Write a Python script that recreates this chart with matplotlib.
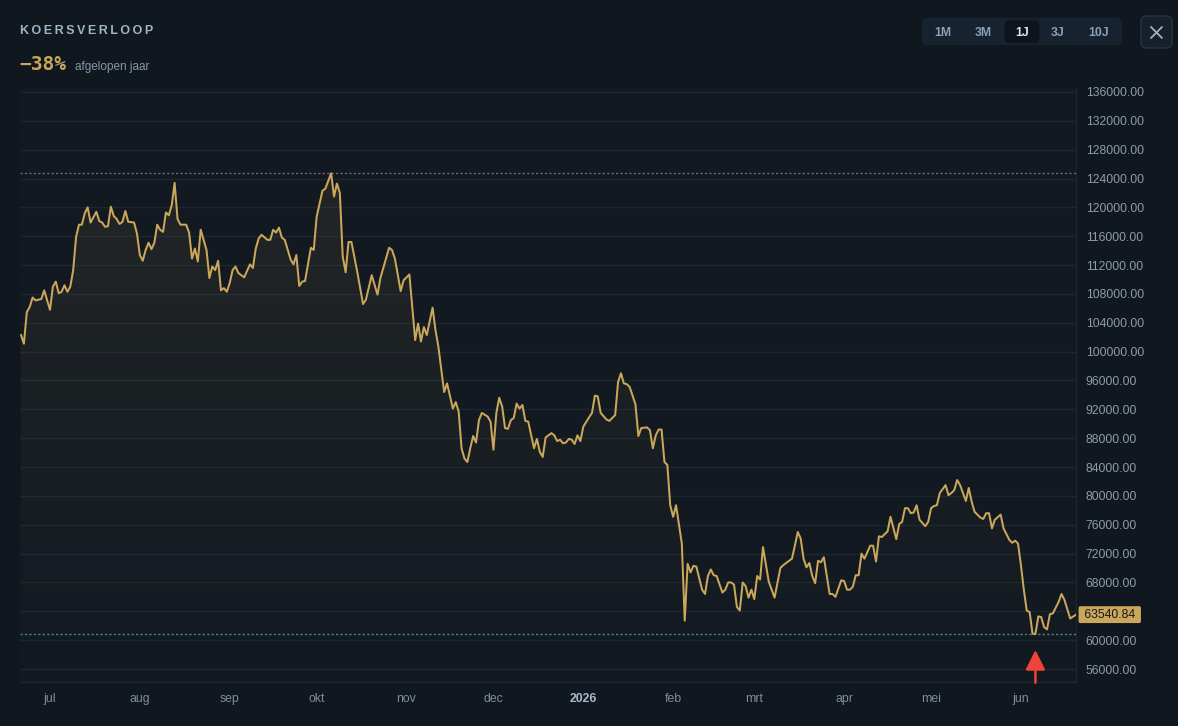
#!/usr/bin/env python3
"""
Koersverloop - one year price chart, dark theme
"""

import matplotlib
matplotlib.use("Agg")

import numpy as np
import pandas as pd
import matplotlib.pyplot as plt
from matplotlib.colors import to_rgb
from matplotlib.patches import FancyBboxPatch
from matplotlib.ticker import MultipleLocator, FuncFormatter

# ---- data -----------------------------------------------------------------
START = "2025-06-21"

# days since START
day = [
    0, 1, 2, 3, 4, 5, 7, 8, 10, 11, 12, 13, 14, 15, 16, 17, 18, 19, 20, 21,
    22, 23, 24, 26, 27, 28, 29, 30, 31, 32, 33, 34, 35, 36, 37, 39, 40, 41, 42, 43,
    44, 45, 46, 47, 48, 49, 50, 51, 52, 53, 54, 55, 57, 58, 59, 60, 61, 62, 64, 65,
    66, 67, 68, 69, 70, 71, 72, 73, 74, 75, 77, 79, 80, 81, 82, 83, 85, 86, 87, 88,
    89, 90, 91, 93, 94, 95, 96, 97, 98, 100, 101, 102, 104, 105, 107, 108, 109, 110, 111, 112,
    113, 114, 116, 118, 119, 121, 123, 124, 125, 127, 128, 129, 131, 132, 134, 136, 137, 138, 139, 140,
    142, 143, 144, 146, 147, 149, 150, 151, 152, 153, 154, 155, 156, 157, 158, 159, 161, 162, 163, 164,
    165, 166, 167, 168, 169, 170, 171, 172, 173, 174, 175, 177, 178, 179, 180, 181, 183, 184, 185, 186,
    187, 188, 189, 190, 191, 192, 193, 194, 196, 197, 198, 199, 200, 202, 203, 205, 206, 207, 208, 209,
    210, 212, 213, 214, 216, 217, 218, 219, 220, 221, 222, 223, 224, 225, 226, 228, 229, 230, 231, 232,
    233, 235, 236, 237, 238, 239, 240, 242, 243, 244, 245, 246, 247, 248, 249, 250, 251, 252, 253, 254,
    255, 256, 258, 260, 262, 263, 266, 267, 268, 269, 270, 271, 272, 273, 274, 275, 276, 277, 279, 280,
    281, 283, 284, 285, 286, 287, 288, 289, 290, 291, 293, 294, 295, 296, 297, 299, 300, 302, 303, 304,
    305, 306, 307, 308, 309, 310, 312, 313, 314, 315, 316, 317, 319, 320, 321, 322, 323, 324, 326, 327,
    328, 329, 331, 332, 333, 334, 335, 336, 338, 339, 341, 342, 343, 344, 345, 346, 347, 348, 349, 350,
    351, 352, 353, 354, 355, 356, 358, 359, 360, 362, 364,
]

# closing price in thousands
price_k = [
    102.3, 101.1, 105.5, 106.2, 107.5, 107.1, 107.3, 108.5, 105.8, 109.0, 109.7, 108.1, 108.3, 109.2, 108.3, 109.0, 111.3, 115.9, 117.6, 117.6,
    119.2, 120.0, 117.9, 119.4, 118.1, 117.9, 117.3, 117.4, 120.1, 118.8, 118.4, 117.7, 118.0, 119.5, 118.0, 117.9, 116.4, 113.4, 112.6, 114.1,
    115.1, 114.2, 115.1, 117.6, 116.9, 116.6, 119.3, 118.9, 120.3, 123.4, 118.4, 117.6, 117.6, 116.5, 112.9, 114.3, 112.5, 116.9, 114.1, 110.2,
    111.8, 111.3, 112.6, 108.5, 108.8, 108.3, 109.5, 111.3, 111.8, 110.9, 110.3, 112.1, 111.6, 114.3, 115.7, 116.2, 115.5, 115.5, 116.9, 116.5,
    117.2, 115.8, 115.5, 112.8, 112.1, 113.4, 109.1, 109.7, 109.8, 114.4, 114.1, 118.7, 122.3, 122.6, 124.73, 121.5, 123.3, 122.0, 113.2, 111.0,
    115.2, 115.2, 111.1, 106.6, 107.2, 110.6, 107.9, 110.2, 111.6, 114.4, 114.1, 112.9, 108.4, 109.9, 110.7, 101.6, 103.9, 101.4, 103.4, 102.3,
    106.1, 103.0, 100.7, 94.4, 95.6, 92.1, 93.0, 91.7, 86.6, 85.2, 84.7, 86.6, 88.3, 87.4, 90.5, 91.5, 91.0, 90.3, 86.4, 91.5,
    93.6, 92.4, 89.4, 89.3, 90.5, 90.8, 92.8, 92.1, 92.6, 90.4, 90.3, 86.6, 87.9, 86.1, 85.4, 88.1, 88.7, 88.4, 87.6, 87.8,
    87.3, 87.4, 87.9, 87.8, 87.2, 88.4, 87.6, 89.6, 90.9, 91.5, 93.9, 93.8, 91.5, 90.6, 90.4, 91.2, 95.8, 97.0, 95.6, 95.5,
    95.1, 92.7, 88.3, 89.4, 89.5, 89.1, 86.6, 88.4, 89.2, 89.2, 84.7, 84.3, 78.7, 77.1, 78.7, 73.4, 62.7, 70.6, 69.4, 70.3,
    70.2, 67.0, 66.4, 68.9, 69.8, 69.0, 68.9, 66.6, 67.0, 68.0, 68.0, 67.7, 64.6, 64.1, 68.0, 67.5, 65.9, 67.0, 65.7, 68.9,
    68.4, 72.9, 68.1, 65.9, 70.0, 70.4, 71.3, 73.1, 75.0, 74.1, 71.3, 70.1, 70.7, 68.9, 67.9, 71.0, 70.8, 71.5, 66.4, 66.4,
    66.0, 68.3, 68.2, 67.0, 67.0, 67.4, 69.0, 69.0, 72.0, 71.3, 73.1, 73.1, 70.9, 74.4, 74.3, 75.1, 77.1, 74.0, 76.1, 76.4,
    78.3, 78.3, 77.6, 77.7, 78.7, 76.7, 75.8, 76.4, 78.3, 78.6, 78.7, 80.4, 81.5, 80.1, 80.4, 80.8, 82.2, 81.5, 79.3, 81.1,
    79.2, 77.8, 77.0, 76.8, 77.6, 77.6, 75.5, 76.7, 77.4, 75.5, 73.9, 73.5, 73.8, 73.4, 70.4, 67.0, 64.1, 63.9, 60.9, 60.85,
    63.3, 63.2, 61.8, 61.5, 63.6, 63.7, 65.3, 66.4, 65.6, 63.0, 63.54084,
]

MONTHS_NL = ["jan", "feb", "mrt", "apr", "mei", "jun",
             "jul", "aug", "sep", "okt", "nov", "dec"]
PERIODS = ["1M", "3M", "1J", "3J", "10J"]
ACTIVE_PERIOD = "1J"
TITLE = "KOERSVERLOOP"
CHANGE_NOTE = "afgelopen jaar"

# ---- style ----------------------------------------------------------------
W, H = 1178, 726
FIG_BG = "#10171f"
AX_BG = "#121921"
GRID = "#1c2630"
GOLD = "#caa75a"
TICK = "#8d9bab"
MAX_LINE = "#7a6470"
MIN_LINE = "#3b8c80"
ARROW = "#f0443a"
FONT = ["Liberation Sans", "DejaVu Sans"]


def build_series():
    dates = pd.Timestamp(START) + pd.to_timedelta(day, unit="D")
    price = np.array(price_k) * 1000.0
    return dates, price


def draw_header(fig, price):
    """Title, yearly change and the period buttons, in pixel coordinates."""
    ui = fig.add_axes([0, 0, 1, 1], facecolor="none", zorder=5)
    ui.set_xlim(0, W)
    ui.set_ylim(H, 0)
    ui.axis("off")

    ui.text(20, 31, "\u2009".join(TITLE), family=FONT, fontsize=9, weight="bold",
            color="#a0b4c4", va="center", ha="left")

    pct = round((price[-1] / price[0] - 1.0) * 100)
    sign = "\u2212" if pct < 0 else "+"
    ui.text(19, 64, f"{sign}{abs(pct)}%", family="DejaVu Sans Mono", fontsize=14,
            weight="bold", color=GOLD, va="center", ha="left")
    ui.text(75, 67, CHANGE_NOTE, family=FONT, fontsize=8.5, color="#8797a7",
            va="center", ha="left")

    # period selector
    ui.add_patch(FancyBboxPatch((922, 18), 200, 27, boxstyle="round,pad=0,rounding_size=5",
                                fc="#172230", ec="none"))
    centers = [943, 983, 1022, 1058, 1099]
    for label, cx in zip(PERIODS, centers):
        active = label == ACTIVE_PERIOD
        if active:
            ui.add_patch(FancyBboxPatch((cx - 17.5, 20.5), 35, 22.5,
                                        boxstyle="round,pad=0,rounding_size=4",
                                        fc="#0e141b", ec="none"))
        ui.text(cx, 32.5, label, family=FONT, fontsize=8.8, weight="bold",
                color="#e2e8ee" if active else "#8fa0b0", ha="center", va="center")

    # close button
    ui.add_patch(FancyBboxPatch((1141, 16), 31, 32, boxstyle="round,pad=0,rounding_size=6",
                                fc="#16202a", ec="#273441", lw=1))
    ui.plot([1151, 1162], [27, 38], color="#a3b3c2", lw=1.3, solid_capstyle="round")
    ui.plot([1151, 1162], [38, 27], color="#a3b3c2", lw=1.3, solid_capstyle="round")


def draw_chart(fig, dates, price):
    ax = fig.add_axes([20 / W, 44 / H, 1056 / W, 594 / H], facecolor=AX_BG)
    xnum = matplotlib.dates.date2num(dates)
    x0, x1 = xnum[0] - 0.35, xnum[-1]
    y0, y1 = 54200, 136550

    # gradient fill under the line
    n = 256
    rgba = np.zeros((n, 1, 4))
    rgba[..., :3] = to_rgb(GOLD)
    rgba[..., 3] = np.linspace(0.09, 0.0, n).reshape(-1, 1)
    im = ax.imshow(rgba, aspect="auto", origin="upper", zorder=1,
                   extent=[x0, x1, y0, price.max()])
    poly = ax.fill_between(xnum, price, y0, color="none", lw=0)
    im.set_clip_path(poly.get_paths()[0], transform=ax.transData)

    ax.plot(xnum, price, color=GOLD, lw=1.45, zorder=4, solid_joinstyle="round")

    ax.axhline(price.max(), color=MAX_LINE, lw=1, ls=(0, (1.6, 1.6)), zorder=3)
    ax.axhline(price.min(), color=MIN_LINE, lw=1, ls=(0, (1.6, 1.6)), zorder=3)

    # arrow under the year low
    i_min = int(np.argmin(price))
    ax.annotate("", xy=(xnum[i_min], price.min()), xytext=(0, -35),
                textcoords="offset points", annotation_clip=False,
                arrowprops=dict(arrowstyle="-|>,head_length=0.6,head_width=0.3",
                                mutation_scale=20, color=ARROW, lw=1.8,
                                shrinkA=0, shrinkB=11.5), zorder=6)

    ax.set_xlim(x0, x1)
    ax.set_ylim(y0, y1)

    # y axis on the right
    ax.yaxis.tick_right()
    ax.yaxis.set_major_locator(MultipleLocator(4000))
    last = price[-1]
    ax.yaxis.set_major_formatter(FuncFormatter(
        lambda v, pos: "" if abs(v - last) < 2500 else f"{v:.2f}"))
    ax.tick_params(axis="y", length=0, pad=7, labelsize=8.8, labelcolor=TICK)
    ax.grid(axis="y", color=GRID, lw=1, zorder=0)
    ax.set_axisbelow(True)

    # month ticks
    ticks = pd.date_range(dates[0], dates[-1], freq="MS")
    ax.set_xticks(matplotlib.dates.date2num(ticks))
    ax.set_xticklabels([str(t.year) if t.month == 1 else MONTHS_NL[t.month - 1] for t in ticks])
    ax.tick_params(axis="x", length=0, pad=8, labelsize=8.8, labelcolor="#7f8e9c")
    for t, lbl in zip(ticks, ax.get_xticklabels()):
        if t.month == 1:
            lbl.set_fontweight("bold")
            lbl.set_color("#a8bccb")
    for lbl in ax.get_xticklabels() + ax.get_yticklabels():
        lbl.set_family(FONT)

    for side in ("top", "left"):
        ax.spines[side].set_visible(False)
    for side in ("right", "bottom"):
        ax.spines[side].set_color(GRID)
        ax.spines[side].set_linewidth(1)

    # current price tag
    ax.annotate(f" {last:.2f} ", xy=(1, last), xycoords=ax.get_yaxis_transform(),
                xytext=(3.6, 0), textcoords="offset points", ha="left", va="center",
                fontsize=8.8, family=FONT, color="#15181c", annotation_clip=False,
                bbox=dict(boxstyle="round,pad=0.2,rounding_size=0.15", fc=GOLD, ec="none"),
                zorder=7)
    return ax


def main() -> None:
    dates, price = build_series()
    fig = plt.figure(figsize=(W / 100, H / 100), dpi=100, facecolor=FIG_BG)
    draw_chart(fig, dates, price)
    draw_header(fig, price)
    fig.savefig("out.png", dpi=100, facecolor=FIG_BG)
    print("Saved: out.png")


if __name__ == "__main__":
    main()
